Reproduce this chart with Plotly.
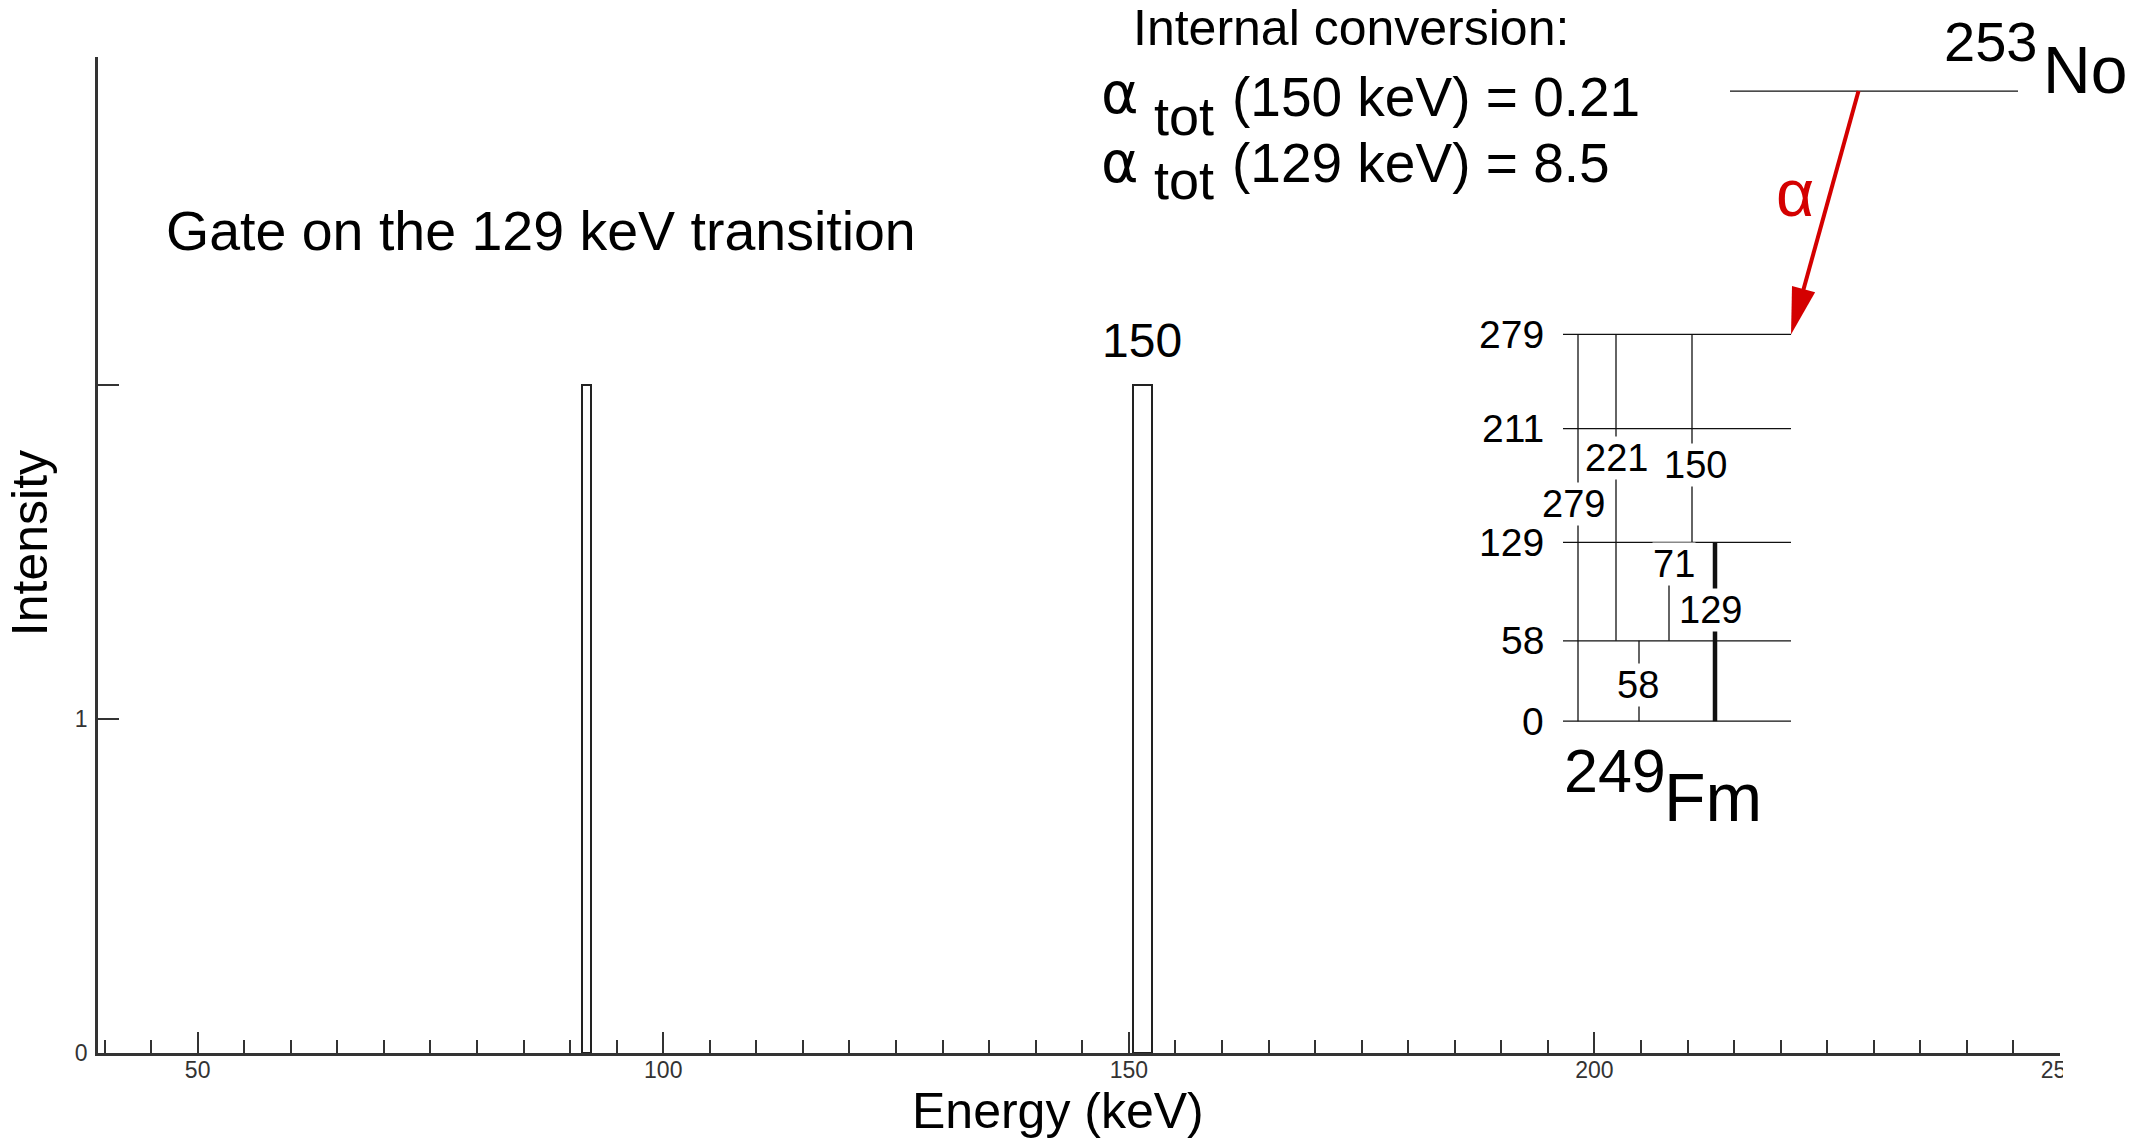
import plotly.graph_objects as go

# ---------------- data ----------------
# gamma spectrum gated on the 129 keV transition (bin edges in keV, counts)
peak_lo = [91.3, 150.45]
peak_hi = [92.25, 152.5]
peak_counts = [2, 2]

y_tick_vals = [0, 1, 2]
y_tick_text = ["0", "1", ""]

# 249Fm level scheme (keV)
level_energies = [0, 58, 129, 211, 279]
level_labels = ["0", "58", "129", "211", "279"]
trans_from = [279, 279, 279, 129, 129, 58]
trans_to = [0, 58, 129, 58, 0, 0]
trans_labels = ["279", "221", "150", "71", "129", "58"]

# ---------------- layout constants ----------------
W, H = 2140, 1141
L, R, T, B = 98, 80, 57, 88.3
PW, PH = W - L - R, H - T - B
X_RANGE = [39.3, 250]
Y_RANGE = [0, 2.984]

def px(x):
    return (x - L) / PW

def py(y):
    return (H - B - y) / PH

FONT = "Liberation Sans, Arial, sans-serif"
GREEK = "DejaVu Sans, Liberation Sans, sans-serif"

# level-scheme frame (x2 in pixels from the left end of the level lines, y2 in keV)
SCHEME_X0 = 1563
E0_PX = 721
KEV_PX = 1.386
LEVEL_LEN = 228
x2_range = [L - SCHEME_X0, L + PW - SCHEME_X0]
y2_range = [-(H - B - E0_PX) / KEV_PX, (E0_PX - T) / KEV_PX]

trans_x = [15, 53, 129, 106, 152, 76]
trans_w = [1.3, 1.3, 1.3, 1.3, 4.5, 1.3]
trans_lab_x = [10.3, 53.7, 132.7, 111, 147.7, 75.3]
trans_lab_y = [156.9, 189.8, 184.7, 113.3, 80.4, 25.8]

fig = go.Figure()

# spectrum bars
centers = [(a + b) / 2 for a, b in zip(peak_lo, peak_hi)]
widths = [b - a for a, b in zip(peak_lo, peak_hi)]
fig.add_trace(go.Bar(
    x=centers, y=peak_counts, width=widths, base=0,
    marker=dict(color="white", line=dict(color="#222", width=2)),
    hoverinfo="skip", xaxis="x", yaxis="y",
))

# level lines
lx, ly = [], []
for e in level_energies:
    lx += [0, LEVEL_LEN, None]
    ly += [e, e, None]
fig.add_trace(go.Scatter(x=lx, y=ly, mode="lines", line=dict(color="#111", width=1.3),
                         hoverinfo="skip", xaxis="x2", yaxis="y2"))

# transitions
for xi, ef, et, w in zip(trans_x, trans_from, trans_to, trans_w):
    fig.add_trace(go.Scatter(x=[xi, xi], y=[ef, et], mode="lines",
                             line=dict(color="#111", width=w),
                             hoverinfo="skip", xaxis="x2", yaxis="y2"))

# parent level (253No)
PARENT_Y = 454.5
fig.add_trace(go.Scatter(x=[167, 455], y=[PARENT_Y, PARENT_Y], mode="lines",
                         line=dict(color="#111", width=1.3),
                         hoverinfo="skip", xaxis="x2", yaxis="y2"))

annotations = []
# level labels
for e, lab in zip(level_energies, level_labels):
    annotations.append(dict(x=-17, y=e, xref="x2", yref="y2", text=lab,
                            showarrow=False, xanchor="right", yanchor="middle",
                            font=dict(family=FONT, size=39, color="black")))
# transition labels
for xl, yl, lab in zip(trans_lab_x, trans_lab_y, trans_labels):
    annotations.append(dict(x=xl, y=yl, xref="x2", yref="y2", text=lab,
                            showarrow=False, xanchor="center", yanchor="middle",
                            bgcolor="white", borderpad=0,
                            font=dict(family=FONT, size=38, color="black")))

def txt(x, y, s, size, color="black", xanchor="left", angle=0, family=FONT):
    annotations.append(dict(x=px(x), y=py(y), xref="paper", yref="paper", text=s,
                            showarrow=False, xanchor=xanchor, yanchor="middle",
                            textangle=angle, borderpad=0,
                            font=dict(family=family, size=size, color=color)))

txt(1563, 771, "249", 61)
txt(1663, 797, "Fm", 68)
txt(1943, 41.7, "253", 56)
txt(2042, 70, "No", 66)
txt(1132, 28.3, "Internal conversion:", 50)
txt(1100, 93, "α", 57, family=GREEK)
txt(1153, 116, "tot", 54)
txt(1231, 96.7, "(150 keV) = 0.21", 55)
txt(1100, 162, "α", 57, family=GREEK)
txt(1153, 179.5, "tot", 54)
txt(1231, 163.3, "(129 keV) = 8.5", 55)
txt(1795, 193, "α", 66, color="#d40000", xanchor="center")
txt(165, 231, "Gate on the 129 keV transition", 55.5)
txt(1142, 340.5, "150", 48, xanchor="center")
txt(30, 543, "Intensity", 50, xanchor="center", angle=-90)
txt(1058, 1111, "Energy (keV)", 50, xanchor="center")

# red alpha arrow (tail on parent level, tip at right end of 279 level)
def x2px(v):
    return SCHEME_X0 + v

def y2px(e):
    return E0_PX - KEV_PX * e

tail = (x2px(295.5), y2px(PARENT_Y))
tip = (x2px(LEVEL_LEN), y2px(279))
dx, dy = tip[0] - tail[0], tip[1] - tail[1]
ln = (dx * dx + dy * dy) ** 0.5
ux, uy = dx / ln, dy / ln
HL, HW = 47, 12
base = (tip[0] - ux * HL, tip[1] - uy * HL)
c1 = (base[0] - uy * HW, base[1] + ux * HW)
c2 = (base[0] + uy * HW, base[1] - ux * HW)

shapes = [
    dict(type="line", xref="paper", yref="paper",
         x0=px(tail[0]), y0=py(tail[1]), x1=px(base[0] + ux * 4), y1=py(base[1] + uy * 4),
         line=dict(color="#d40000", width=4)),
    dict(type="path", xref="paper", yref="paper",
         path="M {:.5f},{:.5f} L {:.5f},{:.5f} L {:.5f},{:.5f} Z".format(
             px(tip[0]), py(tip[1]), px(c1[0]), py(c1[1]), px(c2[0]), py(c2[1])),
         fillcolor="#d40000", line=dict(width=0)),
    # the original spectrum is cropped through the last tick label
    dict(type="rect", xref="paper", yref="paper", layer="above",
         x0=px(2063), x1=px(2140), y0=py(1056), y1=py(1100),
         fillcolor="white", line=dict(width=0)),
]

tick_font = dict(family=FONT, size=23, color="#333")
fig.update_layout(
    width=W, height=H, autosize=False,
    margin=dict(l=L, r=R, t=T, b=B, pad=0),
    paper_bgcolor="white", plot_bgcolor="white",
    showlegend=False, bargap=0,
    xaxis=dict(range=X_RANGE, showgrid=False, zeroline=False,
               showline=True, linecolor="#333", linewidth=2.5,
               ticks="inside", ticklen=21, tickwidth=2, tickcolor="#333",
               tickmode="linear", tick0=0, dtick=50, tickfont=tick_font,
               ticklabelstandoff=-5,
               minor=dict(ticks="inside", ticklen=13, tickwidth=2, tickcolor="#333",
                          tick0=0, dtick=5, showgrid=False)),
    yaxis=dict(range=Y_RANGE, showgrid=False, zeroline=False,
               showline=True, linecolor="#333", linewidth=2.5,
               ticks="inside", ticklen=21, tickwidth=2, tickcolor="#333",
               tickmode="array", tickvals=y_tick_vals, ticktext=y_tick_text,
               tickfont=tick_font, ticklabelstandoff=3),
    xaxis2=dict(overlaying="x", range=x2_range, visible=False, fixedrange=True),
    yaxis2=dict(overlaying="y", range=y2_range, visible=False, fixedrange=True),
    annotations=annotations,
    shapes=shapes,
)

fig.write_html("out.html")
